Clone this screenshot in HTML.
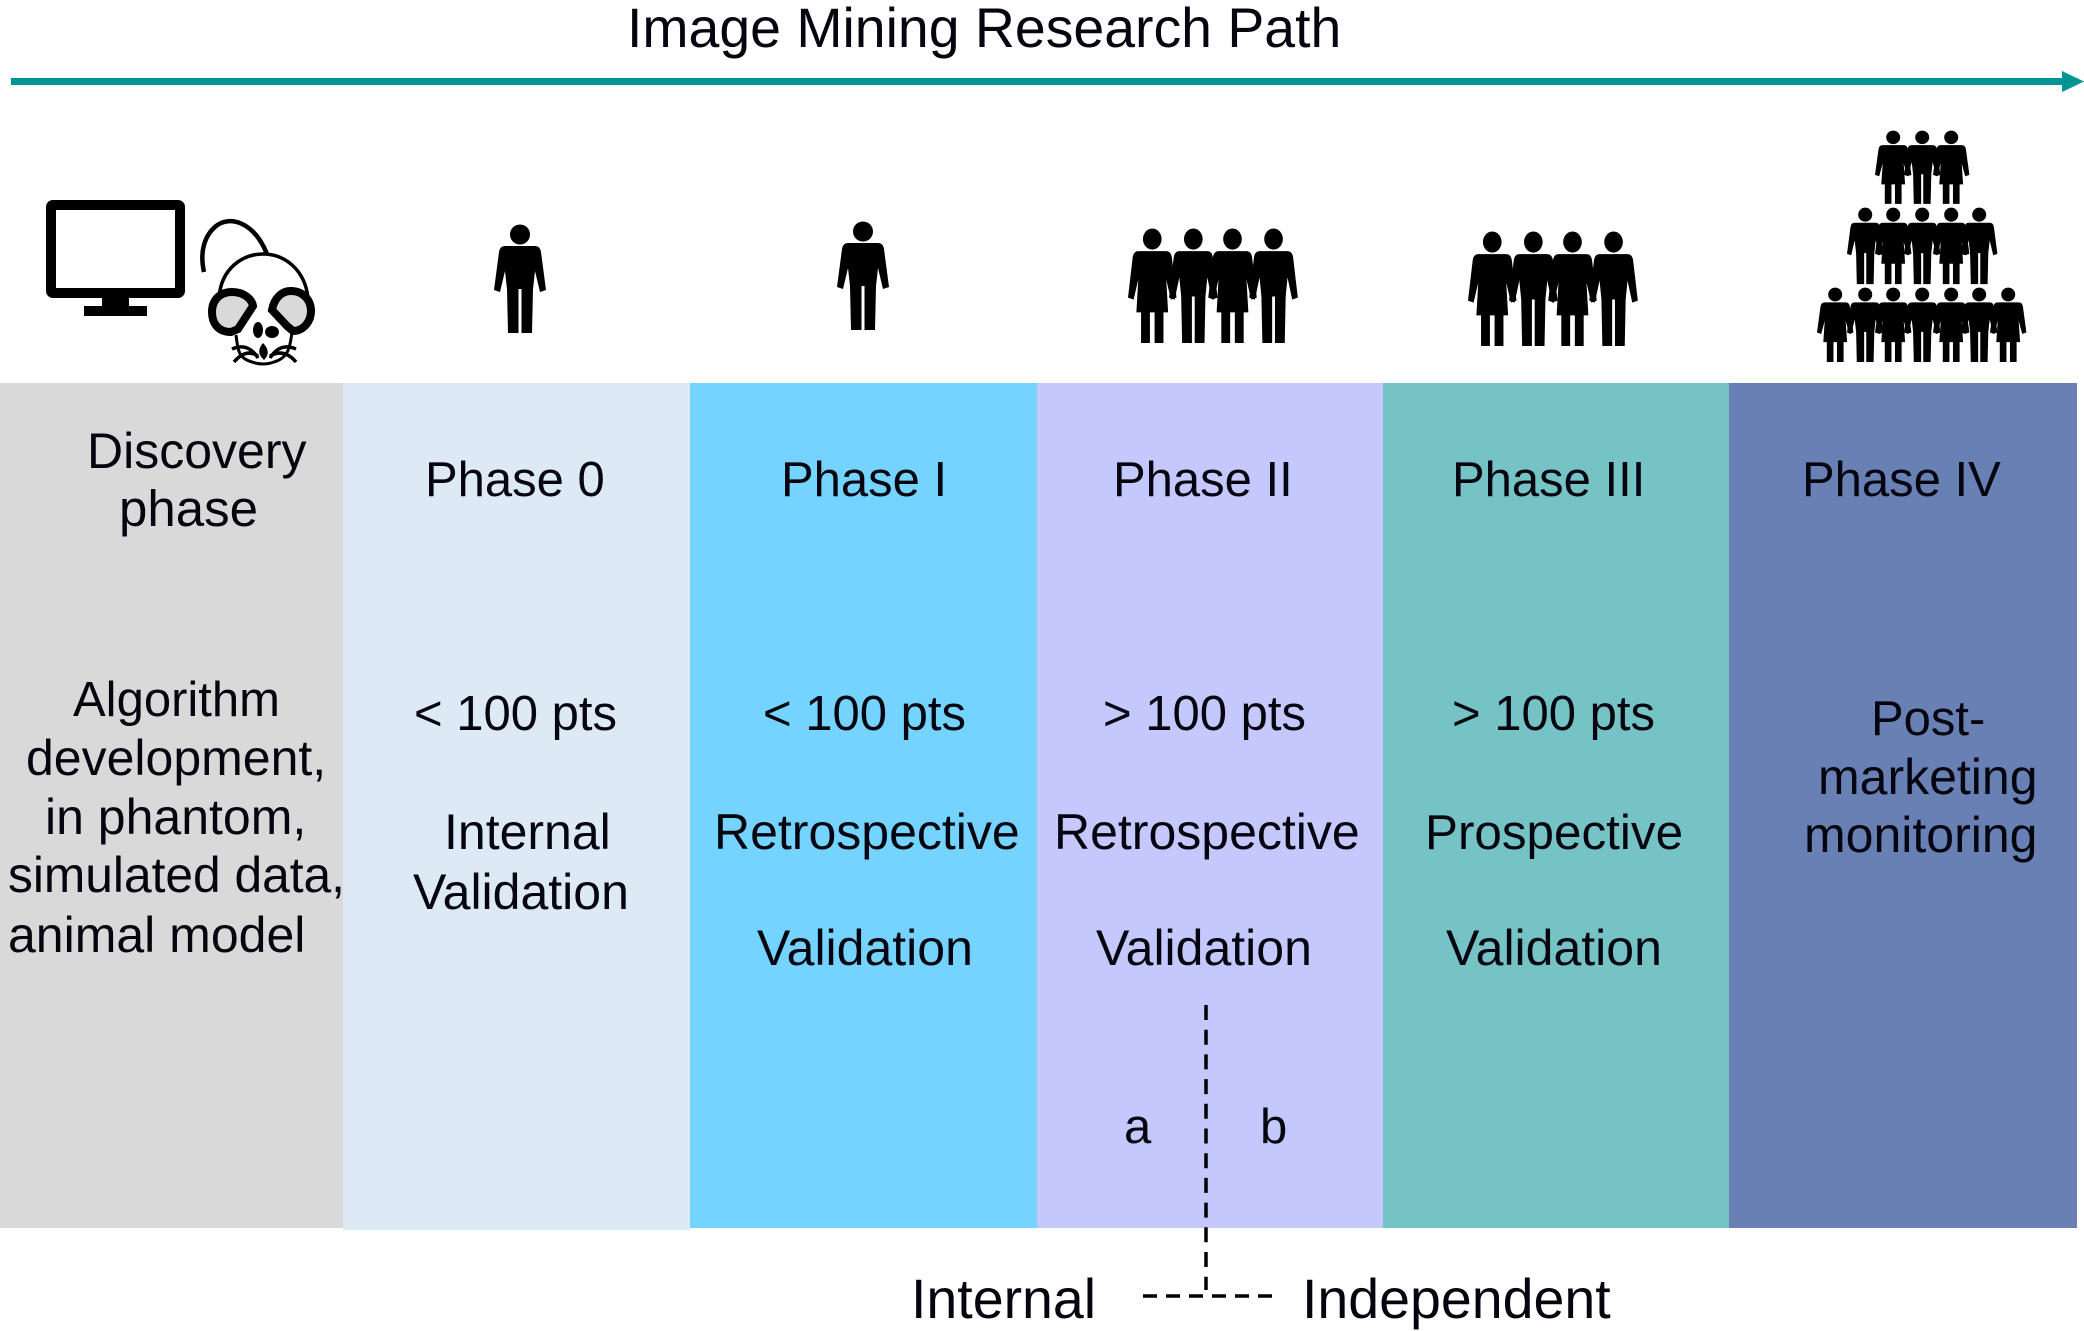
<!DOCTYPE html>
<html lang="en"><head><meta charset="utf-8"><title>Image Mining Research Path</title>
<style>
html,body{margin:0;padding:0;background:#fff;width:2084px;height:1331px;overflow:hidden}
svg{display:block}
text{font-family:"Liberation Sans",Arial,sans-serif;font-size:49px;fill:#050510}
.b{font-size:50px}
</style></head><body>
<svg width="2084" height="1331" viewBox="0 0 2084 1331" xmlns="http://www.w3.org/2000/svg">
<defs>
<g id="m"><circle cx="26" cy="9.5" r="10"/>
<path d="M11 21 L41 21 Q46 21 47 27 L52 65 L46 67 L41 46 L39 64 L38 108 L27.5 108 L27.5 64 L24.5 64 L24.5 108 L14 108 L13 64 L11 46 L6 67 L0 65 L5 27 Q6 21 11 21Z"/></g>
<g id="w"><circle cx="26" cy="9.5" r="10"/>
<path d="M11 21 L41 21 Q46 21 47 27 L52 65 L46 67 L41 48 L43 79 L38 79 L38 108 L28.5 108 L28.5 79 L23.5 79 L23.5 108 L14 108 L14 79 L9 79 L11 48 L6 67 L0 65 L5 27 Q6 21 11 21Z"/></g>
</defs>
<rect width="2084" height="1331" fill="#fff"/>
<!-- panels -->
<rect x="0" y="383" width="343" height="845" fill="#d9d9d9"/>
<rect x="343" y="383" width="347" height="847" fill="#dee9f6"/>
<rect x="690" y="383" width="347" height="845" fill="#75d3ff"/>
<rect x="1037" y="383" width="346" height="845" fill="#c5c8fd"/>
<rect x="1383" y="383" width="346" height="845" fill="#75c3c5"/>
<rect x="1729" y="383" width="348" height="845" fill="#6880b4"/>
<!-- title arrow -->
<text x="627" y="47" style="font-size:55.4px">Image Mining Research Path</text>
<rect x="11" y="78" width="2052" height="7" fill="#009494"/>
<polygon points="2062,71 2084,81.5 2062,92" fill="#009494"/>
<!-- monitor -->
<rect x="51" y="205" width="129" height="88" fill="#fff" stroke="#000" stroke-width="10" rx="2"/>
<rect x="102" y="296" width="27" height="12"/>
<rect x="84" y="306" width="63" height="10"/>
<!-- mouse -->
<g fill="none" stroke="#000">
<path d="M267 254 C254 222 230 215 216 226 C203 237 200 254 204 272" stroke-width="4.5"/>
<path d="M219 298 C221 268 243 254 263 254 C285 254 305 270 308 298" stroke-width="3.5"/>
<path d="M236 335 C238 350 238 358 252 362 Q263 366 274 362 C288 358 290 348 292 332" stroke-width="3"/>
<path d="M232 349 Q248 342 258 358 M234 362 Q246 348 258 356 M296 349 Q280 342 270 358 M296 362 Q284 348 270 356" stroke-width="3.5"/>
</g>
<path d="M232 292 C245 292 252 300 253 306 L238 329 L231 332 C217 332 212 322 212 312 C212 300 220 292 232 292Z" fill="#d9d9d9" stroke="#000" stroke-width="8"/>
<path d="M291 291 C303 291 311 300 311 311 C311 322 303 331 293 331 L287 326 L272 310 C274 299 281 291 291 291Z" fill="#d9d9d9" stroke="#000" stroke-width="8"/>
<ellipse cx="258" cy="330" rx="5" ry="8"/><ellipse cx="272" cy="332" rx="7" ry="6"/>
<path d="M263 343 Q272 352 264 360 Q255 352 263 343Z"/>
<!-- persons -->
<use href="#m" transform="translate(494,225)"/>
<use href="#m" transform="translate(837,222)"/>
<g transform="translate(1128,229) scale(.933,1.055)"><use href="#w"/><use href="#m" x="44"/><use href="#w" x="86"/><use href="#m" x="130"/></g>
<g transform="translate(1468,232) scale(.933,1.055)"><use href="#w"/><use href="#m" x="44"/><use href="#w" x="86"/><use href="#m" x="130"/></g>
<!-- pyramid -->
<use href="#w" transform="translate(1875,131) scale(.7,.675)"/>
<use href="#m" transform="translate(1904,131) scale(.7,.675)"/>
<use href="#w" transform="translate(1933,131) scale(.7,.675)"/>
<use href="#m" transform="translate(1847,208) scale(.7,.705)"/>
<use href="#w" transform="translate(1875,208) scale(.7,.705)"/>
<use href="#m" transform="translate(1904,208) scale(.7,.705)"/>
<use href="#w" transform="translate(1933,208) scale(.7,.705)"/>
<use href="#m" transform="translate(1961,208) scale(.7,.705)"/>
<use href="#w" transform="translate(1817,288) scale(.7,.685)"/>
<use href="#m" transform="translate(1847,288) scale(.7,.685)"/>
<use href="#w" transform="translate(1875,288) scale(.7,.685)"/>
<use href="#m" transform="translate(1904,288) scale(.7,.685)"/>
<use href="#w" transform="translate(1933,288) scale(.7,.685)"/>
<use href="#m" transform="translate(1961,288) scale(.7,.685)"/>
<use href="#w" transform="translate(1990,288) scale(.7,.685)"/>
<!-- text -->
<text class="b" x="87" y="468">Discovery</text><text x="119" y="526" style="font-size:51px">phase</text>
<text x="73" y="716">Algorithm</text><text class="b" x="26" y="775">development,</text><text class="b" x="45" y="834">in phantom,</text><text x="8" y="892" style="font-size:49.7px">simulated data,</text><text class="b" x="8" y="952">animal model</text>
<text x="425" y="496">Phase 0</text><text x="414" y="730">&lt; 100 pts</text><text class="b" x="444" y="849">Internal</text><text class="b" x="413" y="909">Validation</text>
<text x="781" y="496">Phase I</text><text x="763" y="730">&lt; 100 pts</text><text class="b" x="714" y="849">Retrospective</text><text class="b" x="757" y="965">Validation</text>
<text x="1113" y="496">Phase II</text><text x="1103" y="730">&gt; 100 pts</text><text class="b" x="1054" y="849">Retrospective</text><text class="b" x="1096" y="965">Validation</text>
<text x="1452" y="496">Phase III</text><text x="1452" y="730">&gt; 100 pts</text><text x="1425" y="849" style="font-size:49.4px">Prospective</text><text class="b" x="1446" y="965">Validation</text>
<text x="1802" y="496">Phase IV</text><text x="1871" y="735">Post-</text><text class="b" x="1818" y="794">marketing</text><text class="b" x="1804" y="852">monitoring</text>
<text x="1124" y="1143">a</text><text x="1260" y="1143">b</text>
<text x="911" y="1318" style="font-size:55.5px">Internal</text><text x="1302" y="1318" style="font-size:55.5px">Independent</text>
<!-- dashed -->
<line x1="1206" y1="1005" x2="1206" y2="1290" stroke="#000" stroke-width="3.5" stroke-dasharray="15 9.7"/>
<line x1="1143" y1="1296" x2="1276" y2="1296" stroke="#000" stroke-width="3.5" stroke-dasharray="14 9"/>
</svg>
</body></html>
